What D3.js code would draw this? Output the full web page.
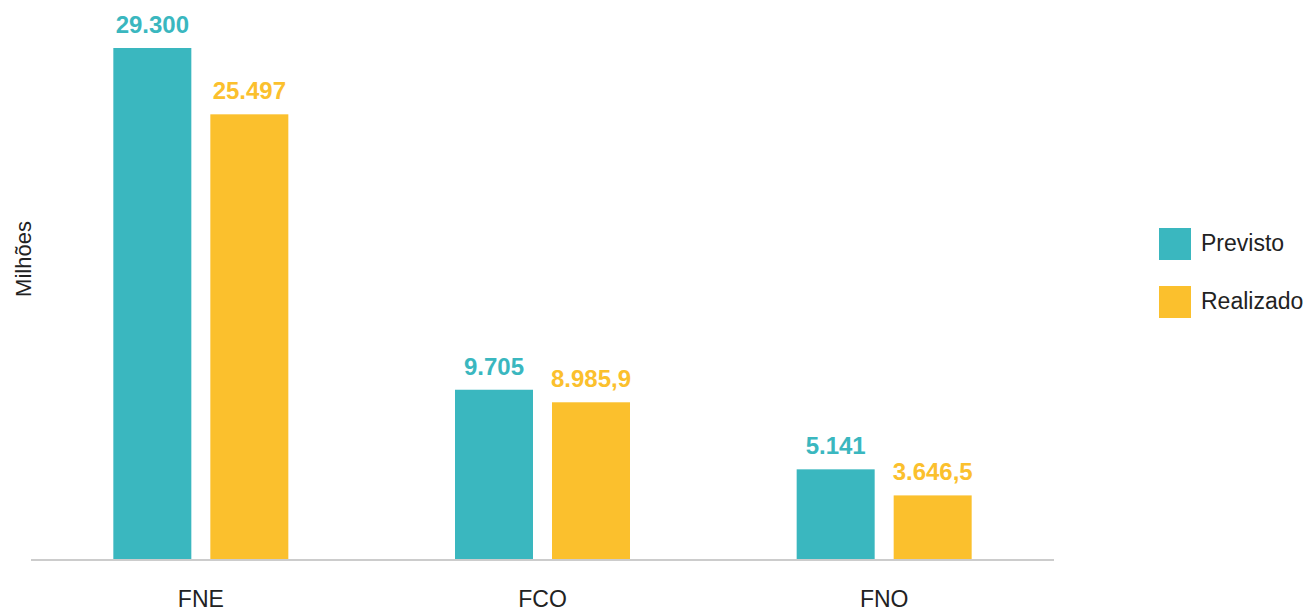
<!DOCTYPE html>
<html><head><meta charset="utf-8">
<script src="https://cdn.jsdelivr.net/npm/d3@7"></script>
<style>body{margin:0;background:#fff}svg{display:block;font-family:"Liberation Sans",Arial,sans-serif}</style>
</head><body><svg id="c" width="1309" height="612"></svg>
<script>
const categories = ["FNE", "FCO", "FNO"];
const seriesNames = ["Previsto", "Realizado"];
const previsto = [29300, 9705, 5141];
const realizado = [25497, 8985.9, 3646.5];
const previstoLabels = ["29.300", "9.705", "5.141"];
const realizadoLabels = ["25.497", "8.985,9", "3.646,5"];
const colors = ["#3AB7BF", "#FBC02D"];

const svg = d3.select("#c");
const baseY = 559;
const x = d3.scalePoint().domain(categories).range([30, 1055]).padding(0.5);
const inner = d3.scaleBand().domain(seriesNames).range([-87.5, 87.5]).paddingInner(19/97);
const y = d3.scaleLinear().domain([0, 30000]).range([baseY, 559 - 511 * 30000 / 29300]);

const series = [
  {name: "Previsto", values: previsto, labels: previstoLabels, color: colors[0]},
  {name: "Realizado", values: realizado, labels: realizadoLabels, color: colors[1]}
];

series.forEach(s => {
  const g = svg.append("g");
  g.selectAll("rect").data(categories).join("rect")
    .attr("x", (c) => x(c) + inner(s.name))
    .attr("y", (c, i) => y(s.values[i]))
    .attr("width", inner.bandwidth())
    .attr("height", (c, i) => baseY - y(s.values[i]))
    .attr("fill", s.color);
  g.selectAll("text").data(categories).join("text")
    .attr("x", (c) => x(c) + inner(s.name) + inner.bandwidth() / 2)
    .attr("y", (c, i) => y(s.values[i]) - 15)
    .attr("text-anchor", "middle")
    .attr("font-size", 24).attr("font-weight", "bold")
    .attr("fill", s.color)
    .text((c, i) => s.labels[i]);
});

// axis line
svg.append("line").attr("x1", 31).attr("x2", 1054).attr("y1", 560).attr("y2", 560)
  .attr("stroke", "#cccccc").attr("stroke-width", 2);

// category labels
svg.append("g").selectAll("text").data(categories).join("text")
  .attr("x", c => x(c)).attr("y", 607)
  .attr("text-anchor", "middle").attr("font-size", 23).attr("fill", "#222")
  .text(c => c);

// y title
svg.append("text").attr("transform", "translate(31,259) rotate(-90)")
  .attr("text-anchor", "middle").attr("font-size", 22).attr("fill", "#222").text("Milhões");

// legend
const leg = svg.append("g").selectAll("g").data(series).join("g")
  .attr("transform", (d, i) => `translate(1159,${228 + i * 58})`);
leg.append("rect").attr("width", 32).attr("height", 32).attr("fill", d => d.color);
leg.append("text").attr("x", 42).attr("y", 23).attr("font-size", 23).attr("fill", "#222").text(d => d.name);
</script></body></html>
